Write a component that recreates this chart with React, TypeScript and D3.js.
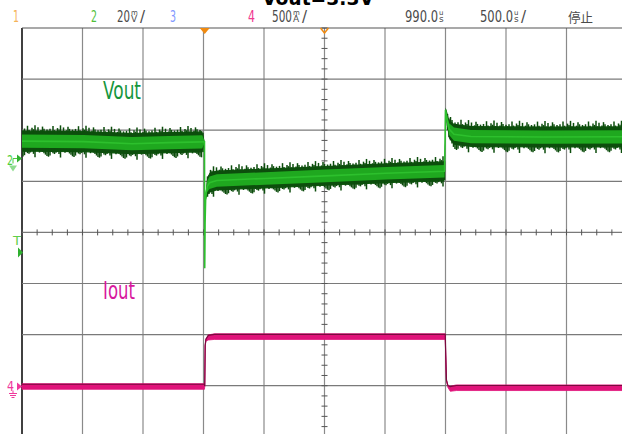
import React from "react";
import * as d3 from "d3";

// ---- data ----
const voutTimeUs = [-1510, -1000, -600, -300, -20, -2, 0, 3, 8, 20, 40, 100, 500, 1000, 1500, 1982, 1986, 1990, 2000, 2020, 2060, 2200, 2800, 3490];
const voutMv = [6.8, 6.6, 5.8, 6.2, 6.5, 6.5, -43, -25, -15, -11, -9.5, -8.6, -7.8, -6.8, -5.8, -5.0, 6, 19, 16, 11.5, 9.5, 8.6, 8.4, 8.5];
const voutNoiseMv = [3.6, 3.6, 3.6, 3.6, 3.6, 0.6, 0.6, 0.6, 1.5, 3, 3.4, 3.4, 3.4, 3.4, 3.4, 3.4, 0.6, 0.8, 2.5, 3.2, 3.6, 3.6, 3.6, 3.6];

const ioutTimeUs = [-1510, -2, 0, 4, 10, 30, 80, 1988, 1992, 1998, 2010, 2030, 2080, 3490];
const ioutMa = [0, 0, 0, 400, 455, 480, 488, 488, 300, 60, 0, -22, -12, -12];
const ioutBandMa = [55, 55, 6, 6, 20, 50, 55, 55, 6, 6, 20, 50, 55, 55];

// fixed visual texture for the noise edges of the Vout trace
const noiseTexture = [0.2, 0.5, 0.1, 0.9, 0.3, 0.0, 0.6, 0.4, 1.0, 0.2, 0.7, 0.1, 0.3, 0.8, 0.5, 0.0, 0.4];

const topLabels = [
  { text: "1", x: 13, w: 6, color: "#f5b35a" },
  { text: "2", x: 91, w: 6, color: "#4fbf3a" },
  { text: "3", x: 170, w: 6, color: "#7f98ff" },
  { text: "4", x: 248, w: 7, color: "#f0388f" },
];
const channelScales = ["20", "500"]; // mV/div , mA/div
const delayText = "990.0";
const timebaseText = "500.0";
const stateText = "停止";

// ---- layout ----
const W = 622, H = 434;
const left = 22, top = 28, divW = 60.5, divH = 51.1;
const nX = 10, nY = 8;
const right = left + nX * divW, bottom = top + nY * divH;
const cx = left + 5 * divW, cy = top + 4 * divH;

export default function App() {
  const x = d3.scaleLinear().domain([-1510, 3490]).range([left, right]);
  const ch2Zero = 158.5, ch4Zero = 386.5;
  const yV = d3.scaleLinear().domain([0, 20]).range([ch2Zero, ch2Zero - divH]);
  const yI = d3.scaleLinear().domain([0, 500]).range([ch4Zero, ch4Zero - divH]);

  const vAt = d3.scaleLinear().domain(voutTimeUs).range(voutMv).clamp(true);
  const nAt = d3.scaleLinear().domain(voutTimeUs).range(voutNoiseMv).clamp(true);

  const vPts = voutTimeUs.map((t, i) => ({ t, v: voutMv[i], n: voutNoiseMv[i] }));
  const outerArea = d3.area<any>().x(d => x(d.t)).y0(d => yV(d.v - d.n * 1.15)).y1(d => yV(d.v + d.n * 1.15));
  const innerArea = d3.area<any>().x(d => x(d.t)).y0(d => yV(d.v - d.n * 0.72)).y1(d => yV(d.v + d.n * 0.72));
  const vLine = d3.line<any>().x(d => x(d.t)).y(d => yV(d.v));

  const spikes = d3.range(left + 1, 622, 1.5).map((px, i) => {
    const t = x.invert(px);
    const v = vAt(t), n = nAt(t);
    const up = n * (1.0 + 0.75 * noiseTexture[i % noiseTexture.length]);
    const dn = n * (1.0 + 0.75 * noiseTexture[(i * 7 + 3) % noiseTexture.length]);
    return { px, y1: yV(v + up), y2: yV(v - dn), ok: n > 2 };
  });

  const iPts = ioutTimeUs.map((t, i) => ({ t, v: ioutMa[i], b: ioutBandMa[i] }));
  const iArea = d3.area<any>().x(d => x(d.t)).y0(d => yI(d.v - d.b * 0.5)).y1(d => yI(d.v + d.b * 0.5));
  const iLine = d3.line<any>().x(d => x(d.t)).y(d => yI(d.v + d.b * 0.4));

  const vlines = d3.range(0, nX + 1).map(i => left + i * divW);
  const hlines = d3.range(0, nY + 1).map(i => top + i * divH);
  const hTicks = d3.range(0, nX * 4 + 1).map(i => left + i * divW / 4);
  const vTicks = d3.range(0, nY * 5 + 1).map(i => top + i * divH / 5);

  const font = "'DejaVu Sans', sans-serif";

  return (
    <svg width={W} height={H} style={{ position: "fixed", left: 0, top: 0, background: "#fff" }}>
      <rect x={0} y={0} width={W} height={H} fill="#fff" />
      {/* title (cut off at top) */}
      <text x={262} y={5} fontFamily={font} fontWeight="bold" fontSize={19} fill="#000" textLength={112} lengthAdjust="spacingAndGlyphs">Vout=3.3V</text>

      {/* top status bar */}
      {topLabels.map(l => (
        <text key={l.text} x={l.x} y={22} fontFamily={font} fontSize={15} fill={l.color} textLength={l.w} lengthAdjust="spacingAndGlyphs">{l.text}</text>
      ))}
      <g fontFamily={font} fill="#4a4a4a">
        <text y={22} fontSize={15}>
          <tspan x={117} y={22} textLength={13} lengthAdjust="spacingAndGlyphs">{channelScales[0]}</tspan>
          <tspan x={131} y={15} fontSize={7}>m</tspan>
          <tspan x={131} y={22} fontSize={9}>V</tspan>
          <tspan x={140} y={22}>/</tspan>
        </text>
        <text y={22} fontSize={15}>
          <tspan x={272} y={22} textLength={20} lengthAdjust="spacingAndGlyphs">{channelScales[1]}</tspan>
          <tspan x={293} y={15} fontSize={7}>m</tspan>
          <tspan x={293} y={22} fontSize={9}>A</tspan>
          <tspan x={302} y={22}>/</tspan>
        </text>
        <text y={22} fontSize={15}>
          <tspan x={405} y={22} textLength={33} lengthAdjust="spacingAndGlyphs">{delayText}</tspan>
          <tspan x={439} y={15} fontSize={7}>u</tspan>
          <tspan x={439} y={22} fontSize={9}>s</tspan>
        </text>
        <text y={22} fontSize={15}>
          <tspan x={480} y={22} textLength={33} lengthAdjust="spacingAndGlyphs">{timebaseText}</tspan>
          <tspan x={514} y={15} fontSize={7}>u</tspan>
          <tspan x={514} y={22} fontSize={9}>s</tspan>
          <tspan x={521} y={22}>/</tspan>
        </text>
        <text x={568} y={22} fontFamily="'Noto Sans CJK SC', sans-serif" fontSize={13} textLength={25} lengthAdjust="spacingAndGlyphs">{stateText}</text>
      </g>

      {/* grid */}
      <g>
        {vlines.map((v, i) => (
          <line key={"v" + i} x1={v} x2={v} y1={top} y2={bottom} stroke={i === 0 ? "#000" : "#8a8a8a"} strokeWidth={i === 0 ? 1.5 : 1.2} />
        ))}
        {hlines.map((h, i) => (
          <line key={"h" + i} x1={left} x2={right} y1={h} y2={h} stroke={i === 0 ? "#555" : "#7a7a7a"} strokeWidth={1.2} />
        ))}
        {hTicks.map((t, i) => (
          <line key={"ht" + i} x1={t} x2={t} y1={cy - 3} y2={cy + 3} stroke="#555" strokeWidth={1} />
        ))}
        {vTicks.map((t, i) => (
          <line key={"vt" + i} x1={cx - 3} x2={cx + 3} y1={t} y2={t} stroke="#555" strokeWidth={1} />
        ))}
      </g>

      {/* markers at top */}
      <path d={`M${x(0) - 5},${top} L${x(0) + 5},${top} L${x(0)},${top + 6} Z`} fill="#f08a10" />
      <path d={`M${cx - 4},${top} L${cx},${top + 5} L${cx + 4},${top}`} fill="none" stroke="#f08a10" strokeWidth={1.5} />

      {/* Vout trace */}
      <path d={outerArea(vPts) || ""} fill="#0f5a0f" />
      <g stroke="#0c4d0c" strokeWidth={1.5}>
        {spikes.filter(s => s.ok).map((s, i) => (
          <line key={i} x1={s.px} x2={s.px} y1={s.y1} y2={s.y2} />
        ))}
      </g>
      <path d={innerArea(vPts) || ""} fill="#1fa81f" />
      <path d={vLine(vPts) || ""} fill="none" stroke="#2dc02d" strokeWidth={1.6} />

      {/* Iout trace */}
      <path d={iArea(iPts) || ""} fill="#e0137a" stroke="#e0137a" strokeWidth={0.8} />
      <path d={iLine(iPts) || ""} fill="none" stroke="#7a0a3e" strokeWidth={1.2} />

      {/* labels */}
      <text x={103} y={99} fontFamily={font} fontSize={25} fill="#16963c" textLength={38} lengthAdjust="spacingAndGlyphs">Vout</text>
      <text x={103} y={299} fontFamily={font} fontSize={25} fill="#d8189e" textLength={32} lengthAdjust="spacingAndGlyphs">Iout</text>

      {/* left channel markers */}
      <g fontFamily={font}>
        <text x={7} y={165} fontSize={14} fill="#4fcf3a" textLength={6} lengthAdjust="spacingAndGlyphs">2</text>
        <path d={`M13,${ch2Zero + 5} L13,${ch2Zero} L17,${ch2Zero}`} stroke="#4fcf3a" fill="none" strokeWidth={1} />
        <path d={`M17,${ch2Zero - 4} L22,${ch2Zero} L17,${ch2Zero + 4} Z`} fill="#2fb02f" />
        <path d={`M9,${ch2Zero + 7} L17,${ch2Zero + 7} L13,${ch2Zero + 13} Z`} fill="#8fdc8f" />

        <text x={13} y={245} fontSize={13} fill="#5fcf4a" textLength={8} lengthAdjust="spacingAndGlyphs">T</text>
        <path d={`M18,${cy + 15} L23,${cy + 20} L18,${cy + 25} Z`} fill="#2fb02f" />

        <text x={7} y={391} fontSize={14} fill="#f0389c" textLength={7} lengthAdjust="spacingAndGlyphs">4</text>
        <path d={`M17,${ch4Zero - 4} L22,${ch4Zero} L17,${ch4Zero + 4} Z`} fill="#f0389c" />
        <path d={`M13,${ch4Zero + 4} L13,${ch4Zero + 7}`} stroke="#f0389c" />
        <path d={`M9,${ch4Zero + 7} L17,${ch4Zero + 7} M10,${ch4Zero + 9} L16,${ch4Zero + 9} M11.5,${ch4Zero + 11} L14.5,${ch4Zero + 11}`} stroke="#f0389c" strokeWidth={1} />
      </g>
    </svg>
  );
}
